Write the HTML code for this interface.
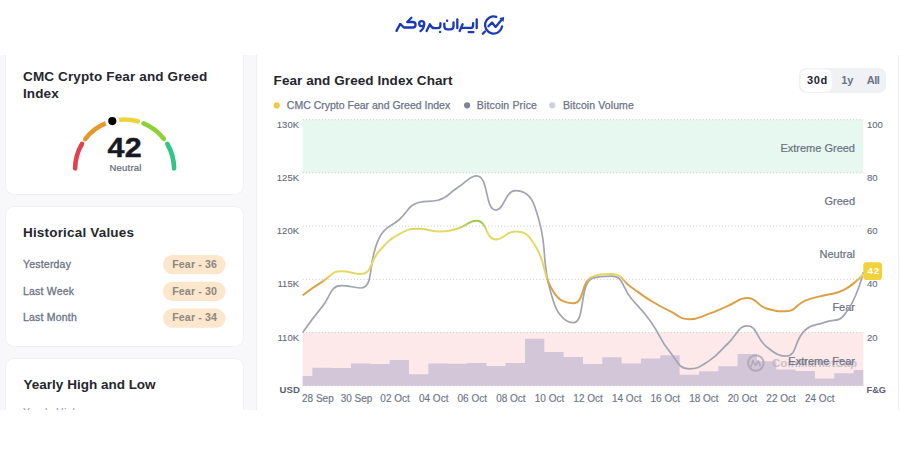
<!DOCTYPE html>
<html><head><meta charset="utf-8">
<style>
*{box-sizing:border-box;margin:0;padding:0}
html,body{width:900px;height:471px;overflow:hidden;background:#fff;font-family:"Liberation Sans",sans-serif;}
.page{position:absolute;left:0;top:55px;width:900px;height:355px;background:#f8f8fa;overflow:hidden;}
.card{position:absolute;background:#fff;border-radius:8px;box-shadow:0 0 0 1px #f0f0f3;}
svg.ov{position:absolute;left:0;top:0;font-family:"Liberation Sans",sans-serif;}
</style></head><body>
<div class="page">
<div class="card" style="left:6px;top:-20px;width:237px;height:159px;"></div>
<div class="card" style="left:6px;top:151.5px;width:237px;height:139px;"></div>
<div class="card" style="left:6px;top:303.5px;width:237px;height:80px;"></div>
<div class="card" style="left:257px;top:-20px;width:640.5px;height:400px;"></div>
</div>

<svg class="ov" width="900" height="471" viewBox="0 0 900 471">
  <defs>
    <linearGradient id="fgg" gradientUnits="userSpaceOnUse" x1="0" y1="385.7" x2="0" y2="119.7">
      <stop offset="0" stop-color="#e2434d"/>
      <stop offset="0.185" stop-color="#e2434d"/>
      <stop offset="0.215" stop-color="#d9a046"/>
      <stop offset="0.385" stop-color="#d9a046"/>
      <stop offset="0.415" stop-color="#e4d866"/>
      <stop offset="0.585" stop-color="#e4d866"/>
      <stop offset="0.62" stop-color="#9ec556"/>
      <stop offset="0.785" stop-color="#9ec556"/>
      <stop offset="0.815" stop-color="#2fbf7f"/>
      <stop offset="1" stop-color="#2fbf7f"/>
    </linearGradient>
    <clipPath id="cut"><rect x="0" y="0" width="900" height="410"/></clipPath>
    <clipPath id="plot"><rect x="302.7" y="114.7" width="563.6" height="276.0"/></clipPath>
  </defs>
  
<g fill="none" stroke="#1a39b8" stroke-width="2.3" stroke-linecap="round" stroke-linejoin="round">
 <path d="M396.5,30.9 L400.2,23.9 L403.9,27.5 L412.8,27.5 A2.75,2.75 0 0 0 412.8,22 L407.2,22 L411.4,17.8"/>
 <circle cx="421.7" cy="23.7" r="2.5"/>
 <path d="M424.1,24.4 Q424.2,28.3 420.5,31.1"/>
 <path d="M426.6,31 L429.9,24.2 Q431.6,28.2 434.5,28.2 L437.8,28.2 Q440.4,28.2 440.4,25.6 L440.4,23.2"/>
 <path d="M444.3,23.6 L444.3,26 Q444.3,29.4 447.8,29.4 L450.1,29.4 Q453.5,29.4 453.5,26 L453.5,22.3"/>
 <path d="M457.3,19.5 L457.3,28.2"/>
 <path d="M459.7,31 L462.6,24.3"/>
 <path d="M462.3,27.9 L470.6,27.9 Q473.1,27.9 473.1,25.4 L473.1,23.2"/>
 <path d="M468.6,32.1 L473.4,32.1"/>
 <path d="M476.7,19.4 L476.7,28.2"/>
 <path d="M496.3,16.8 A8.6,8.6 0 1 0 502.1,26.4"/>
 <path d="M488.4,26.2 L492,22.6 L495.6,26.9 L501.8,19.4"/>
 <path d="M482.8,33.7 L485,31.5"/>
</g>
<g fill="#1a39b8">
 <circle cx="440.1" cy="31.9" r="1.2"/>
 <circle cx="447.1" cy="20.7" r="1.2"/>
 <path d="M499.3,17.9 L504.2,17.1 L503.5,22 Z"/>
</g>
  <!-- left card texts -->
  <g font-weight="bold" fill="#25262d" font-size="13.5" letter-spacing="0.1">
    <text x="23" y="80.9" letter-spacing="0.14">CMC Crypto Fear and Greed</text>
    <text x="23" y="97.6">Index</text>
    <text x="23" y="237.2" letter-spacing="0.18">Historical Values</text>
    <text x="23.6" y="388.6" letter-spacing="0">Yearly High and Low</text>
    <text x="273.6" y="85.1" letter-spacing="0.07">Fear and Greed Index Chart</text>
    <text x="23" y="416.2" font-size="10.5" font-weight="normal" fill="#8a90a0" letter-spacing="0.2" clip-path="url(#cut)">Yearly High</text>
  </g>
  <g fill="none" stroke-width="4.6" stroke-linecap="round"><path d="M75.10,168.40 A49.5,49.5 0 0 1 81.99,143.80" stroke="#e0434f"/><path d="M85.17,139.07 A49.5,49.5 0 0 1 106.06,123.10" stroke="#e5992a"/><path d="M110.96,121.42 A49.5,49.5 0 0 1 137.83,121.30" stroke="#f0d23f"/><path d="M143.54,123.27 A49.5,49.5 0 0 1 163.87,138.87" stroke="#8ed136"/><path d="M167.34,144.03 A49.5,49.5 0 0 1 174.10,168.40" stroke="#2fc488"/></g>
  <circle cx="112.29" cy="121.06" r="5.6" fill="#000" stroke="#fff" stroke-width="3"/>
  <text transform="translate(107.4,156.8) scale(1.13,1)" font-weight="bold" font-size="27" fill="#171924" stroke="#171924" stroke-width="0.4" letter-spacing="0.3">42</text>
  <text transform="translate(109.4,170.6) scale(1.02,1)" font-size="9.4" fill="#5f6677" letter-spacing="0.2" stroke="#5f6677" stroke-width="0.2">Neutral</text>
  <g fill="#6b7386" font-size="10.5" letter-spacing="0.2" stroke="#6b7386" stroke-width="0.3">
    <text x="23" y="267.9">Yesterday</text>
    <text x="23" y="294.6">Last Week</text>
    <text x="23" y="321.4">Last Month</text>
  </g>
  <g fill="#fce6cc">
    <rect x="163" y="255" width="62.5" height="19.2" rx="9.6"/>
    <rect x="163" y="281.8" width="62.5" height="19.2" rx="9.6"/>
    <rect x="163" y="308.6" width="62.5" height="19.2" rx="9.6"/>
  </g>
  <g fill="#8b8782" font-size="10.6" font-weight="bold" letter-spacing="0.15">
    <text x="172.2" y="267.8">Fear - 36</text>
    <text x="172.2" y="294.6">Fear - 30</text>
    <text x="172.2" y="321.4">Fear - 34</text>
  </g>
  <!-- tabs -->
  <rect x="799" y="68" width="87" height="25" rx="7" fill="#eff1f5"/>
  <rect x="800.6" y="69.4" width="31.6" height="22.3" rx="6" fill="#fff"/>
  <g font-weight="bold" font-size="11">
    <text x="807" y="84" fill="#222531" letter-spacing="0.6">30d</text>
    <text x="841.2" y="84" fill="#6b7386">1y</text>
    <text x="866.8" y="84" fill="#6b7386" letter-spacing="-0.5">All</text>
  </g>
  <!-- legend -->
  <circle cx="276.7" cy="105.4" r="3.1" fill="#ebcb45"/>
  <circle cx="467.1" cy="105.3" r="3.1" fill="#7e8295"/>
  <circle cx="552.2" cy="105.3" r="3.1" fill="#cdd0df"/>
  <g fill="#6b7386" font-size="10.5" stroke="#6b7386" stroke-width="0.25">
    <text x="286.8" y="108.9">CMC Crypto Fear and Greed Index</text>
    <text x="476.8" y="108.9" letter-spacing="0.15">Bitcoin Price</text>
    <text x="563" y="108.9" letter-spacing="0.1">Bitcoin Volume</text>
  </g>
  <!-- chart -->
  <rect x="302.7" y="119.7" width="560.6" height="53.2" fill="#e6f8ef"/>
  <rect x="302.7" y="332.5" width="560.6" height="53.2" fill="#fde9ea"/>
  <path d="M302.70,385.70 L302.70,376.10 L312.37,376.10 L312.36,367.70 L331.69,367.70 L331.69,367.90 L351.03,367.90 L351.02,363.40 L370.36,363.40 L370.35,363.90 L389.69,363.90 L389.68,359.90 L409.01,359.90 L409.01,374.30 L428.34,374.30 L428.34,363.40 L447.68,363.40 L447.67,363.70 L467.00,363.70 L467.00,362.90 L486.33,362.90 L486.33,366.00 L505.67,366.00 L505.66,362.90 L524.99,362.90 L525.00,338.70 L544.32,338.70 L544.33,352.00 L563.65,352.00 L563.65,356.90 L582.98,356.90 L582.99,363.90 L602.31,363.90 L602.32,357.30 L621.64,357.30 L621.64,363.60 L640.97,363.60 L640.97,358.40 L660.30,358.40 L660.31,355.30 L679.63,355.30 L679.63,374.70 L698.96,374.70 L698.96,371.20 L718.29,371.20 L718.30,366.20 L737.62,366.20 L737.62,354.10 L756.95,354.10 L756.95,361.20 L776.28,361.20 L776.28,369.50 L795.61,369.50 L795.62,371.10 L814.94,371.10 L814.94,378.60 L834.27,378.60 L834.28,373.30 L853.61,373.30 L853.61,370.10 L863.27,370.10 L863.27,385.70 Z" fill="#d3c6d8"/>
  <g stroke="#c4c8cf" stroke-width="1" stroke-dasharray="1 2.2"><line x1="302.7" y1="119.7" x2="863.3" y2="119.7"/><line x1="302.7" y1="172.9" x2="863.3" y2="172.9"/><line x1="302.7" y1="226.1" x2="863.3" y2="226.1"/><line x1="302.7" y1="279.3" x2="863.3" y2="279.3"/><line x1="302.7" y1="332.5" x2="863.3" y2="332.5"/><line x1="302.7" y1="385.7" x2="863.3" y2="385.7"/></g>
  <g fill="#646a7a" font-size="9.5" stroke="#646a7a" stroke-width="0.1"><text x="299" y="127.8" text-anchor="end">130K</text><text x="299" y="181.0" text-anchor="end">125K</text><text x="299" y="234.2" text-anchor="end">120K</text><text x="299" y="287.4" text-anchor="end">115K</text><text x="299" y="340.6" text-anchor="end">110K</text><text x="867" y="127.8">100</text><text x="867" y="181.0">80</text><text x="867" y="234.2">60</text><text x="867" y="287.4">40</text><text x="867" y="340.6">20</text></g>
  <g fill="#6e7485" font-size="10" stroke="#6e7485" stroke-width="0.15"><text x="317.9" y="402.2" text-anchor="middle">28 Sep</text><text x="356.5" y="402.2" text-anchor="middle">30 Sep</text><text x="395.1" y="402.2" text-anchor="middle">02 Oct</text><text x="433.7" y="402.2" text-anchor="middle">04 Oct</text><text x="472.3" y="402.2" text-anchor="middle">06 Oct</text><text x="510.9" y="402.2" text-anchor="middle">08 Oct</text><text x="549.5" y="402.2" text-anchor="middle">10 Oct</text><text x="588.1" y="402.2" text-anchor="middle">12 Oct</text><text x="626.7" y="402.2" text-anchor="middle">14 Oct</text><text x="665.3" y="402.2" text-anchor="middle">16 Oct</text><text x="703.9" y="402.2" text-anchor="middle">18 Oct</text><text x="742.5" y="402.2" text-anchor="middle">20 Oct</text><text x="781.1" y="402.2" text-anchor="middle">22 Oct</text><text x="819.7" y="402.2" text-anchor="middle">24 Oct</text></g>
  <g font-weight="bold" font-size="9.6" fill="#5a6072">
    <text x="279.6" y="393">USD</text>
    <text x="866.6" y="393.2" font-size="9.2">F&amp;G</text>
  </g>
  <!-- watermark -->
  <g opacity="0.75">
    <circle cx="755.8" cy="363" r="7.8" fill="none" stroke="#a7a1b0" stroke-width="2"/>
    <path d="M751,367.2 L752.8,360.6 L755.6,365.4 L758.2,360.6 L760.4,366.4" fill="none" stroke="#a7a1b0" stroke-width="1.7" stroke-linejoin="round"/>
    <text x="772" y="367.2" font-size="11.6" font-weight="bold" fill="#b9b1c0" letter-spacing="0">CoinMarketCap</text>
  </g>
  <g fill="#6b7080" font-size="11" stroke="#6b7080" stroke-width="0.2"><text x="855" y="151.7" text-anchor="end">Extreme Greed</text><text x="855" y="204.9" text-anchor="end">Greed</text><text x="855" y="258.1" text-anchor="end">Neutral</text><text x="855" y="311.3" text-anchor="end">Fear</text><text x="855" y="364.5" text-anchor="end">Extreme Fear</text></g>
  <path d="M302.70,332.50 C302.70,332.50 311.83,319.25 322.03,306.90 C331.16,295.85 329.84,285.70 341.36,285.70 C349.17,285.70 355.64,288.00 360.69,288.00 C374.97,288.00 366.85,259.83 380.02,236.50 C386.18,225.58 389.68,228.00 399.35,219.50 C409.01,211.00 407.67,205.41 418.68,202.50 C427.00,200.30 429.16,202.50 438.01,200.30 C448.49,197.70 447.62,193.96 457.34,187.80 C466.95,181.71 469.59,175.80 476.67,175.80 C488.92,175.80 484.60,210.10 496.00,210.10 C503.93,210.10 505.19,190.70 515.33,190.70 C524.52,190.70 530.77,195.00 534.66,206.30 C550.10,251.15 538.89,257.53 553.99,303.00 C558.22,315.73 566.30,322.70 573.32,322.70 C585.63,322.70 578.86,283.53 592.65,278.30 C598.19,276.20 604.30,276.20 611.98,276.20 C623.63,276.20 621.72,287.29 631.31,298.50 C641.05,309.89 641.88,309.28 650.64,321.40 C661.21,336.03 658.65,338.12 669.97,352.00 C677.98,361.82 678.63,368.80 689.30,368.80 C697.96,368.80 700.06,366.71 708.63,361.10 C719.39,354.06 718.31,352.31 727.96,343.50 C737.64,334.66 738.04,325.80 747.29,325.80 C757.37,325.80 755.59,338.13 766.62,346.80 C774.92,353.33 778.26,356.20 785.95,356.20 C797.59,356.20 793.48,340.32 805.28,330.00 C812.81,323.42 814.90,326.07 824.61,322.40 C834.23,318.77 838.09,322.40 843.94,315.40 C857.42,299.29 863.27,272.20 863.27,272.20" fill="none" stroke="#a2a5af" stroke-width="1.7"/>
  <path d="M302.70,295.26 C302.70,295.26 312.07,288.13 322.03,281.96 C331.40,276.16 331.10,271.32 341.36,271.32 C350.43,271.32 353.19,273.98 360.69,273.98 C372.52,273.98 369.37,261.03 380.02,250.04 C388.70,241.08 388.61,239.99 399.35,234.08 C407.94,229.35 408.88,228.76 418.68,228.76 C428.21,228.76 428.35,231.42 438.01,231.42 C447.67,231.42 448.01,231.33 457.34,228.76 C467.34,226.01 468.20,220.78 476.67,220.78 C487.53,220.78 485.14,239.40 496.00,239.40 C504.47,239.40 506.22,231.42 515.33,231.42 C525.55,231.42 528.62,235.16 534.66,244.72 C547.95,265.75 540.45,272.10 553.99,292.60 C559.78,301.36 565.56,303.24 573.32,303.24 C584.89,303.24 580.52,281.12 592.65,276.64 C599.85,273.98 603.20,273.98 611.98,273.98 C622.53,273.98 621.64,280.63 631.31,287.28 C640.97,293.93 640.68,294.41 650.64,300.58 C660.01,306.38 660.05,306.44 669.97,311.22 C679.38,315.75 679.43,319.20 689.30,319.20 C698.76,319.20 699.17,317.13 708.63,313.88 C718.50,310.48 718.29,309.89 727.96,305.90 C737.62,301.91 737.88,297.92 747.29,297.92 C757.21,297.92 756.36,305.55 766.62,308.56 C775.69,311.22 776.88,311.22 785.95,311.22 C796.21,311.22 795.15,304.76 805.28,300.58 C814.48,296.78 814.94,297.92 824.61,295.26 C834.27,292.60 835.35,294.67 843.94,289.94 C854.68,284.03 863.27,273.98 863.27,273.98" fill="none" stroke="url(#fgg)" stroke-width="2"/>
  <rect x="863.3" y="262.2" width="18.7" height="17.8" rx="3" fill="#f1d23a"/>
  <text x="867.4" y="274.3" font-weight="bold" font-size="9.8" fill="#fff" letter-spacing="1">42</text>
</svg>
</body></html>
